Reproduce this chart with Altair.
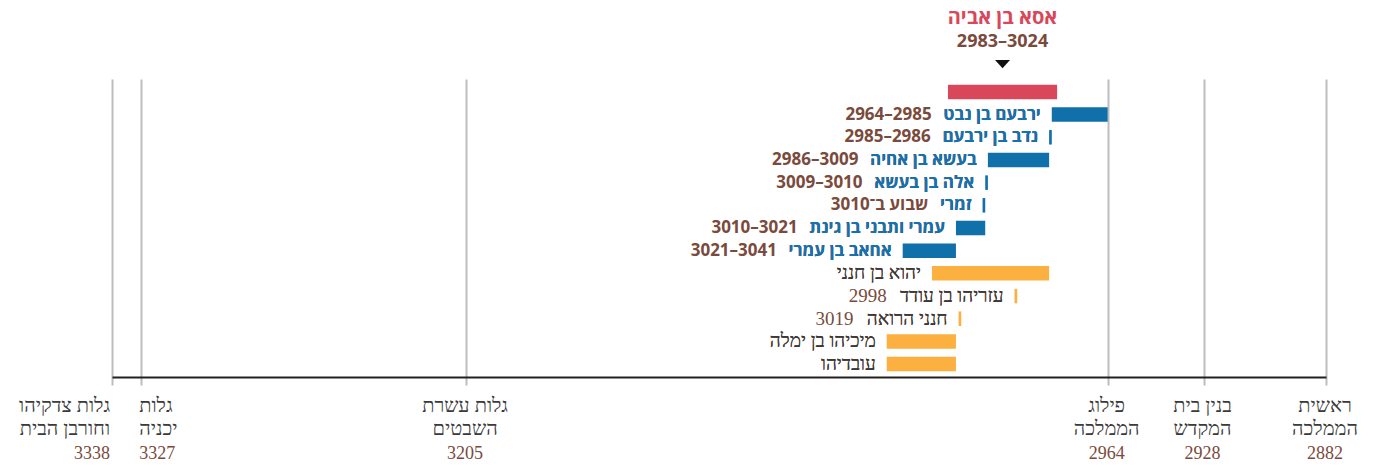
import altair as alt
import pandas as pd

# ---- data ----
names = ["אסא בן אביה", "ירבעם בן נבט", "נדב בן ירבעם", "בעשא בן אחיה", "אלה בן בעשא",
         "זמרי", "עמרי ותבני בן גינת", "אחאב בן עמרי", "יהוא בן חנני", "עזריהו בן עודד",
         "חנני הרואה", "מיכיהו בן ימלה", "עובדיהו"]
groups = ["יהודה"] + ["ישראל"] * 7 + ["נביא"] * 5
start_years = [2983, 2964, 2985, 2986, 3009, 3010, 3010, 3021, 2986, 2998, 3019, 3021, 3021]
end_years = [3024, 2985, 2986, 3009, 3010, 3011, 3021, 3041, 3030, 2999, 3020, 3047, 3047]
year_labels = ["2983–3024", "2964–2985", "2985–2986", "2986–3009", "3009–3010", "שבוע ב־3010",
               "3010–3021", "3021–3041", "", "2998", "3019", "", ""]

event_years = [2882, 2928, 2964, 3205, 3327, 3338]
event_line1 = ["ראשית", "בנין בית", "פילוג", "גלות עשרת", "גלות", "גלות צדקיהו"]
event_line2 = ["הממלכה", "המקדש", "הממלכה", "השבטים", "יכניה", "וחורבן הבית"]

LRI, RLI, PDI = "\u2066", "\u2067", "\u2069"
GAP = "\u00a0\u00a0\u2009"


def combined(n, y):
    if not y:
        return n
    return RLI + n + GAP + LRI + y + PDI + PDI


rows = pd.DataFrame({
    "name": names,
    "group": groups,
    "start": start_years,
    "end": end_years,
    "years": year_labels,
    "combined": [combined(n, y) for n, y in zip(names, year_labels)],
})
events = pd.DataFrame({
    "year": event_years,
    "line1": event_line1,
    "line2": event_line2,
    "year_text": [str(y) for y in event_years],
})

# ---- styles ----
W, H = 1214, 298
RED = "#d9475a"
BLUE = "#0f70aa"
BLUE_TXT = "#1572b0"
ORANGE = "#fbb040"
BROWN = "#7a4a3c"
GRAY = "#3a3a3a"
GRID = "#bdbdc1"
SANS = "Open Sans, Liberation Sans, sans-serif"
SERIF = "Liberation Serif, serif"

x_scale = alt.Scale(domain=[2882, 3338], reverse=True, nice=False, zero=False)
x_axis = alt.Axis(values=event_years, grid=True, gridColor=GRID, gridWidth=2,
                  ticks=True, tickSize=8, tickColor=GRID, tickWidth=2,
                  domain=True, domainColor="#231f20", domainWidth=2,
                  labels=False, title=None)
y_enc = alt.Y("name:N", sort=names, axis=None,
              scale=alt.Scale(paddingInner=0.36, paddingOuter=0.25))

base = alt.Chart(rows)

bars = base.mark_bar().encode(
    x=alt.X("start:Q", scale=x_scale, axis=x_axis),
    x2="end:Q",
    y=y_enc,
    color=alt.Color("group:N", legend=None,
                    scale=alt.Scale(domain=["יהודה", "ישראל", "נביא"],
                                    range=[RED, BLUE, ORANGE])),
)

israel = base.transform_filter(alt.datum.group == "ישראל")
prophet = base.transform_filter(alt.datum.group == "נביא")

isr_years = israel.mark_text(align="right", baseline="middle", dx=-11, font=SANS,
                             fontSize=17, fontWeight="bold", color=BROWN).encode(
    x="end:Q", y=y_enc, text="combined:N")
isr_names = israel.mark_text(align="right", baseline="middle", dx=-11, font=SANS,
                             fontSize=17, fontWeight="bold", color=BLUE_TXT).encode(
    x="end:Q", y=y_enc, text="name:N")
pro_years = prophet.mark_text(align="right", baseline="middle", dx=-11, font=SERIF,
                              fontSize=19, color=BROWN).encode(
    x="end:Q", y=y_enc, text="combined:N")
pro_names = prophet.mark_text(align="right", baseline="middle", dx=-11, font=SERIF,
                              fontSize=19, color=GRAY).encode(
    x="end:Q", y=y_enc, text="name:N")

asa = base.transform_filter(alt.datum.group == "יהודה").transform_calculate(
    mid="(datum.start + datum.end) / 2")
asa_name = asa.mark_text(align="center", baseline="alphabetic", font=SANS, fontSize=20,
                         fontWeight="bold", color=RED).encode(
    x="mid:Q", y=alt.value(-55), text="name:N")
asa_years = asa.mark_text(align="center", baseline="alphabetic", font=SANS, fontSize=18,
                          fontWeight="bold", color=BROWN).encode(
    x="mid:Q", y=alt.value(-32), text="years:N")
asa_arrow = asa.mark_point(shape="M-1,-0.55L1,-0.55L0,0.55Z", size=225, filled=True,
                           opacity=1, strokeWidth=0, color="#111111").encode(
    x="mid:Q", y=alt.value(-15))

ev = alt.Chart(events)
last_year = event_years[-1]
second_year = event_years[-2]
event_layers = []
for flt, align, dx in [
    (f"datum.year == {last_year}", "right", -2),
    (f"datum.year == {second_year}", "left", -2),
    (f"datum.year != {last_year} && datum.year != {second_year}", "center", -1),
]:
    e = ev.transform_filter(flt)
    for field, yv, color, size in [("line1", H + 35, GRAY, 20), ("line2", H + 58, GRAY, 20),
                                   ("year_text", H + 82, BROWN, 18)]:
        event_layers.append(
            e.mark_text(align=align, baseline="alphabetic", dx=dx, font=SERIF,
                        fontSize=size, color=color).encode(
                x="year:Q", y=alt.value(yv), text=f"{field}:N"))

chart = alt.layer(
    bars, isr_years, isr_names, pro_years, pro_names,
    asa_name, asa_years, asa_arrow, *event_layers
).properties(
    width=W, height=H,
    padding={"left": 104, "top": 71, "right": 40, "bottom": 88},
    autosize=alt.AutoSizeParams(type="none"),
).configure_view(stroke=None)

chart.save("out.html", embed_options={"renderer": "svg", "actions": False})
